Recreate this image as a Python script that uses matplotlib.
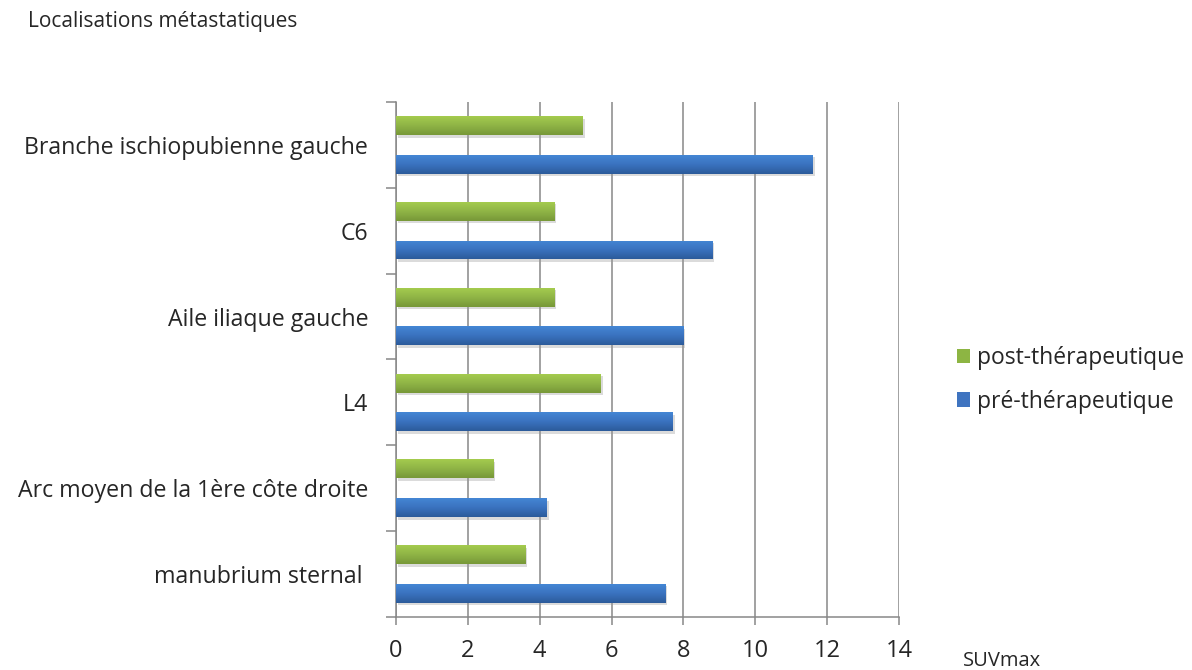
import numpy as np
import matplotlib
matplotlib.use("Agg")
import matplotlib.pyplot as plt
import matplotlib.transforms as mtransforms
from matplotlib.colors import LinearSegmentedColormap
from matplotlib.patches import Patch

# Data (bottom to top)
categories = ["manubrium sternal ", "Arc moyen de la 1ère côte droite", "L4",
              "Aile iliaque gauche", "C6", "Branche ischiopubienne gauche"]
post_ther = [3.6, 2.7, 5.7, 4.4, 4.4, 5.2]
pre_ther = [7.5, 4.2, 7.7, 8.0, 8.8, 11.6]
xticks = [0, 2, 4, 6, 8, 10, 12, 14]

plt.rcParams['font.family'] = ['Open Sans', 'DejaVu Sans']
txt_color = '#262626'
grid_color = '#878787'

fig = plt.figure(figsize=(11.92, 6.7), dpi=100)
ax = fig.add_axes([0.3322, 0.0791, 0.4220, 0.7687])

y = np.arange(len(categories))
h = 0.22
off = 0.225

green_cmap = LinearSegmentedColormap.from_list('g', ['#a4cb4e', '#8fb446', '#779838'])
blue_cmap = LinearSegmentedColormap.from_list('b', ['#4486d4', '#3a72bf', '#2c5b9a'])

# soft shadow
shadow = mtransforms.offset_copy(ax.transData, fig=fig, x=2, y=-2.5, units='dots')
for vals, yy in [(post_ther, y + off), (pre_ther, y - off)]:
    sb = ax.barh(yy, vals, height=h, color='#9a9a9a', alpha=0.35, zorder=2, linewidth=0)
    for p in sb:
        p.set_transform(shadow)

bars_post = ax.barh(y + off, post_ther, height=h, color='#8fb446', zorder=3, linewidth=0)
bars_pre = ax.barh(y - off, pre_ther, height=h, color='#3a72bf', zorder=3, linewidth=0)

grad = np.linspace(0, 1, 64).reshape(-1, 1)
for bars, cmap in [(bars_post, green_cmap), (bars_pre, blue_cmap)]:
    for p in bars:
        x0, y0 = p.get_x(), p.get_y()
        w, hh = p.get_width(), p.get_height()
        im = ax.imshow(grad, extent=[x0, x0 + w, y0, y0 + hh], aspect='auto',
                       cmap=cmap, origin='upper', zorder=4, interpolation='bilinear')
        im.set_clip_path(p)

ax.set_xlim(0, 14)
ax.set_ylim(-0.5, len(categories) - 0.5)
ax.set_aspect('auto')

ax.set_xticks(xticks)
ax.set_xticklabels([str(v) for v in xticks])
ax.tick_params(axis='x', direction='out', length=6, width=1.1, color=grid_color,
               labelsize=17, labelcolor=txt_color, pad=10)

ax.set_yticks(np.arange(-0.5, len(categories), 1.0))
ax.set_yticklabels([])
ax.set_yticks(y, minor=True)
ax.set_yticklabels(categories, minor=True)
ax.tick_params(axis='y', which='major', direction='out', length=7, width=1.1, color=grid_color)
ax.tick_params(axis='y', which='minor', length=0, labelsize=16.7, labelcolor=txt_color, pad=20)

ax.grid(True, axis='x', color=grid_color, linewidth=1.1, zorder=1)
ax.set_axisbelow(True)
for s in ['top', 'right']:
    ax.spines[s].set_visible(False)
for s in ['left', 'bottom']:
    ax.spines[s].set_color(grid_color)
    ax.spines[s].set_linewidth(1.1)

fig.text(28 / 1192, 1 - 22 / 670, "Localisations métastatiques", fontsize=15,
         color=txt_color, va='center', ha='left')
fig.text(963 / 1192, 1 - 661 / 670, "SUVmax", fontsize=14.5, color=txt_color,
         va='center', ha='left')

handles = [Patch(facecolor='#8db543', edgecolor='none', label='post-thérapeutique'),
           Patch(facecolor='#3f74c0', edgecolor='none', label='pré-thérapeutique')]
fig.legend(handles=handles, loc='center left', bbox_to_anchor=(936 / 1192, 1 - 380 / 670),
           frameon=False, fontsize=16.5, handlelength=0.6, handleheight=0.6,
           handletextpad=0.3, labelspacing=0.85, labelcolor=txt_color)

fig.savefig("out.png", dpi=100)
